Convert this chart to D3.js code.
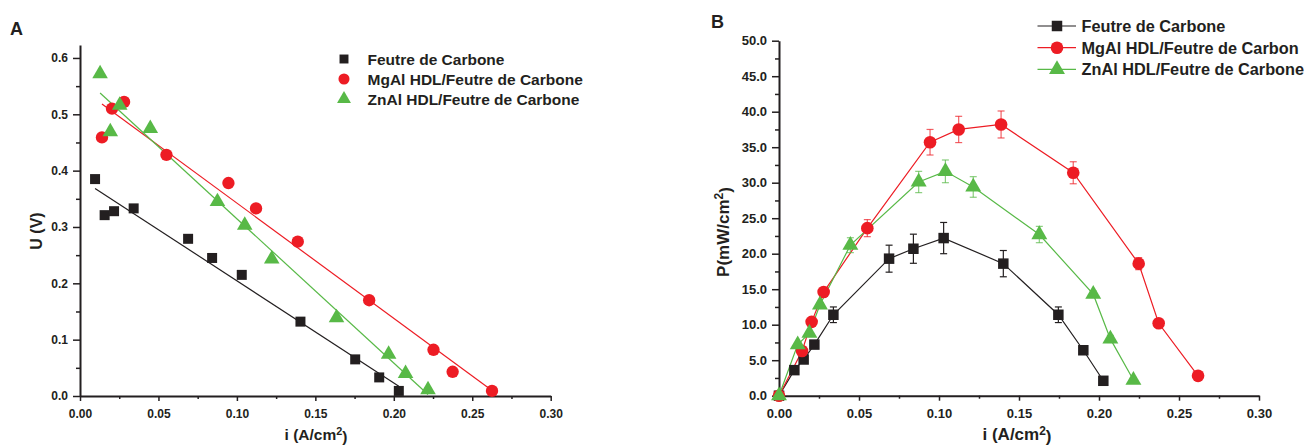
<!DOCTYPE html>
<html>
<head>
<meta charset="utf-8">
<script src="https://d3js.org/d3.v7.min.js"></script>
<style>
body { margin: 0; background: #fff; }
svg text { font-family: "Liberation Sans", Arial, sans-serif; font-weight: bold; fill: #231f20; }
.axis path, .axis line { stroke: #231f20; }
</style>
</head>
<body>
<svg id="chart" width="1309" height="445"></svg>
<script>
// series names
var names = ["Feutre de Carbone", "MgAl HDL/Feutre de Carbone", "ZnAl HDL/Feutre de Carbone"];
var namesB = ["Feutre de Carbone", "MgAl HDL/Feutre de Carbon", "ZnAl HDL/Feutre de Carbone"];
var colors = ["#231f20", "#ed1c24", "#58b947"];

// panel A : U (V) vs i (A/cm2)
var iA_black = [0.0096, 0.0157, 0.0217, 0.0342, 0.0689, 0.0842, 0.1031, 0.1405, 0.1754, 0.1907, 0.2032];
var uA_black = [0.385, 0.321, 0.328, 0.333, 0.279, 0.245, 0.215, 0.132, 0.065, 0.033, 0.009];
var iA_red = [0.0140, 0.0204, 0.0281, 0.0551, 0.0946, 0.1122, 0.1388, 0.1843, 0.2253, 0.2375, 0.2626];
var uA_red = [0.459, 0.510, 0.522, 0.428, 0.378, 0.333, 0.274, 0.170, 0.082, 0.043, 0.009];
var iA_green = [0.0128, 0.0193, 0.0253, 0.0448, 0.0876, 0.1050, 0.1222, 0.1635, 0.1967, 0.2075, 0.2218];
var uA_green = [0.572, 0.469, 0.516, 0.475, 0.345, 0.303, 0.243, 0.139, 0.074, 0.040, 0.011];

// panel B : P (mW/cm2) vs i (A/cm2), with error
var iB_black = [0, 0.0096, 0.0154, 0.0221, 0.0340, 0.0688, 0.0840, 0.1029, 0.1402, 0.1746, 0.1902, 0.2027];
var pB_black = [0, 3.6, 5.1, 7.2, 11.4, 19.3, 20.7, 22.2, 18.6, 11.4, 6.4, 2.1];
var eB_black = [0, 0.3, 0.3, 0.3, 1.1, 1.9, 2.05, 2.2, 1.85, 1.1, 0.3, 0.2];
var iB_red = [0, 0.0144, 0.0204, 0.0279, 0.0552, 0.0944, 0.1123, 0.1388, 0.1839, 0.2248, 0.2373, 0.2619];
var pB_red = [0, 6.3, 10.4, 14.6, 23.6, 35.7, 37.5, 38.2, 31.4, 18.6, 10.2, 2.8];
var eB_red = [0, 0.3, 0.3, 0.3, 1.2, 1.8, 1.85, 1.9, 1.55, 0.85, 0.3, 0.2];
var iB_green = [0, 0.0117, 0.0190, 0.0256, 0.0446, 0.0873, 0.1040, 0.1214, 0.1627, 0.1964, 0.2071, 0.2215];
var pB_green = [0, 7.2, 8.8, 12.8, 21.2, 30.1, 31.6, 29.4, 22.7, 14.3, 8.0, 2.2];
var eB_green = [0, 0.3, 0.3, 0.3, 1.05, 1.5, 1.6, 1.45, 1.15, 0.45, 0.5, 0.3];

var xTicks = [0, 0.05, 0.10, 0.15, 0.20, 0.25, 0.30];
var xMinor = [0.025, 0.075, 0.125, 0.175, 0.225, 0.275];
var yTicksA = [0, 0.1, 0.2, 0.3, 0.4, 0.5, 0.6];
var yMinorA = [0.05, 0.15, 0.25, 0.35, 0.45, 0.55];
var yTicksB = d3.range(0, 50.1, 5);
var yMinorB = d3.range(2.5, 50, 5);

var serA = [[iA_black, uA_black], [iA_red, uA_red], [iA_green, uA_green]];
var serB = [[iB_black, pB_black, eB_black], [iB_red, pB_red, eB_red], [iB_green, pB_green, eB_green]];

var svg = d3.select("#chart");

var xA = d3.scaleLinear().domain([0, 0.3]).range([80, 550.7]);
var yA = d3.scaleLinear().domain([0, 0.623]).range([396, 45]);
var xB = d3.scaleLinear().domain([0, 0.3]).range([779, 1259]);
var yB = d3.scaleLinear().domain([0, 50]).range([395.7, 40.7]);

function symbolFor(k, size) {
  var t = [d3.symbolSquare, d3.symbolCircle, d3.symbolTriangle][k];
  return d3.symbol().type(t).size(size)();
}
var sizesA = [100, 120, 105];
var sizesB = [110, 125, 110];

function axes(x, y, yT, yM, yFmt, fs) {
  var g = svg.append("g");
  g.append("g").attr("class", "axis")
    .attr("transform", "translate(0," + y.range()[0] + ")")
    .call(d3.axisBottom(x).tickValues(xTicks).tickFormat(d3.format(".2f")).tickSize(5).tickSizeOuter(0).tickPadding(8))
    .call(function(s) { s.select(".domain").attr("stroke-width", 2); s.selectAll("line").attr("stroke-width", 1.5);
      s.selectAll("text").style("font-size", fs + "px").attr("fill", "#231f20"); });
  g.append("g").attr("class", "axis")
    .attr("transform", "translate(0," + y.range()[0] + ")")
    .call(d3.axisBottom(x).tickValues(xMinor).tickFormat("").tickSize(3).tickSizeOuter(0))
    .call(function(s) { s.select(".domain").remove(); s.selectAll("line").attr("stroke-width", 1.5); });
  g.append("g").attr("class", "axis")
    .attr("transform", "translate(" + x.range()[0] + ",0)")
    .call(d3.axisLeft(y).tickValues(yT).tickFormat(d3.format(yFmt)).tickSize(7).tickSizeOuter(0).tickPadding(5))
    .call(function(s) { s.select(".domain").attr("stroke-width", 2); s.selectAll("line").attr("stroke-width", 1.5);
      s.selectAll("text").style("font-size", fs + "px").attr("fill", "#231f20"); });
  g.append("g").attr("class", "axis")
    .attr("transform", "translate(" + x.range()[0] + ",0)")
    .call(d3.axisLeft(y).tickValues(yM).tickFormat("").tickSize(4).tickSizeOuter(0))
    .call(function(s) { s.select(".domain").remove(); s.selectAll("line").attr("stroke-width", 1.5); });
}

function xTitle(cx, base, fs) {
  var t = svg.append("text").attr("x", cx).attr("y", base).attr("text-anchor", "middle").style("font-size", fs + "px");
  t.append("tspan").text("i (A/cm");
  t.append("tspan").attr("dy", "-0.45em").style("font-size", (fs * 0.7) + "px").text("2");
  t.append("tspan").attr("dy", "0.45em").text(")");
}

// ---------- Panel A ----------
axes(xA, yA, yTicksA, yMinorA, ".1f", 12);
svg.append("text").attr("x", 10).attr("y", 35).style("font-size", "18px").text("A");
xTitle(316, 440, 15.5);
svg.append("text").attr("transform", "translate(41.5,231) rotate(-90)").attr("text-anchor", "middle")
  .style("font-size", "16px").text("U (V)");

// linear fits
serA.forEach(function(s, k) {
  var pts = s[0].map(function(v, i) { return [v, s[1][i]]; });
  var mx = d3.mean(pts, function(p) { return p[0]; });
  var my = d3.mean(pts, function(p) { return p[1]; });
  var sxy = d3.sum(pts, function(p) { return (p[0] - mx) * (p[1] - my); });
  var sxx = d3.sum(pts, function(p) { return (p[0] - mx) * (p[0] - mx); });
  var b = sxy / sxx, a = my - b * mx;
  var x0 = d3.min(s[0]), x1 = d3.max(s[0]);
  svg.append("line")
    .attr("x1", xA(x0)).attr("y1", yA(a + b * x0))
    .attr("x2", xA(x1)).attr("y2", yA(a + b * x1))
    .attr("stroke", colors[k]).attr("stroke-width", 1.2);
});
serA.forEach(function(s, k) {
  svg.append("g").selectAll("path").data(s[0]).enter().append("path")
    .attr("d", symbolFor(k, sizesA[k]))
    .attr("transform", function(d, i) { return "translate(" + xA(d) + "," + yA(s[1][i]) + ")"; })
    .attr("fill", colors[k]);
});
// legend A
names.forEach(function(n, k) {
  var yy = 59 + k * 20;
  svg.append("path").attr("d", symbolFor(k, sizesA[k] * 0.8)).attr("transform", "translate(344," + yy + ")").attr("fill", colors[k]);
  svg.append("text").attr("x", 367.5).attr("y", yy + 5.5).style("font-size", "15.5px").text(n);
});

// ---------- Panel B ----------
axes(xB, yB, yTicksB, yMinorB, ".1f", 13);
svg.append("text").attr("x", 711).attr("y", 28).style("font-size", "18px").text("B");
xTitle(1017, 440, 17);
var ty = svg.append("text").attr("transform", "translate(728.5,232) rotate(-90)").attr("text-anchor", "middle")
  .style("font-size", "17px");
ty.append("tspan").text("P(mW/cm");
ty.append("tspan").attr("dy", "-0.45em").style("font-size", "12px").text("2");
ty.append("tspan").attr("dy", "0.45em").text(")");

var lineB = d3.line().x(function(d) { return xB(d[0]); }).y(function(d) { return yB(d[1]); });
serB.forEach(function(s, k) {
  var pts = s[0].map(function(v, i) { return [v, s[1][i], s[2][i]]; });
  svg.append("path").datum(pts).attr("d", lineB).attr("fill", "none").attr("stroke", colors[k]).attr("stroke-width", 1.2);
  var eg = svg.append("g").attr("stroke", colors[k]).attr("stroke-opacity", k == 0 ? 1 : 0.7).attr("stroke-width", 1.2);
  pts.filter(function(p) { return p[2] > 0; }).forEach(function(p) {
    var cx = xB(p[0]);
    eg.append("line").attr("x1", cx).attr("x2", cx).attr("y1", yB(p[1] - p[2])).attr("y2", yB(p[1] + p[2]));
    eg.append("line").attr("x1", cx - 3.5).attr("x2", cx + 3.5).attr("y1", yB(p[1] + p[2])).attr("y2", yB(p[1] + p[2]));
    eg.append("line").attr("x1", cx - 3.5).attr("x2", cx + 3.5).attr("y1", yB(p[1] - p[2])).attr("y2", yB(p[1] - p[2]));
  });
});
serB.forEach(function(s, k) {
  svg.append("g").selectAll("path").data(s[0]).enter().append("path")
    .attr("d", symbolFor(k, sizesB[k]))
    .attr("transform", function(d, i) { return "translate(" + xB(d) + "," + yB(s[1][i]) + ")"; })
    .attr("fill", colors[k]);
});
// legend B
namesB.forEach(function(n, k) {
  var yy = 26 + k * 21.7;
  svg.append("line").attr("x1", 1037.5).attr("x2", 1076).attr("y1", yy).attr("y2", yy).attr("stroke", colors[k]).attr("stroke-width", 1.2);
  svg.append("path").attr("d", symbolFor(k, sizesB[k])).attr("transform", "translate(1057," + yy + ")").attr("fill", colors[k]);
  svg.append("text").attr("x", 1081.5).attr("y", yy + 5.8).style("font-size", "16.3px").text(n);
});
</script>
</body>
</html>
